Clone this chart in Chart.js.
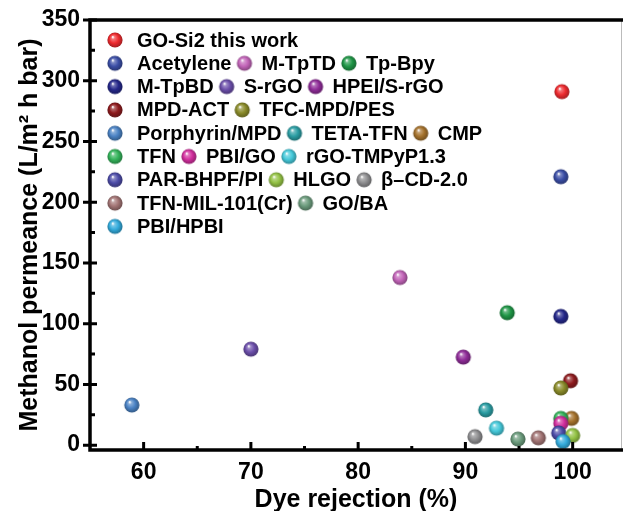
<!DOCTYPE html>
<html>
<head>
<meta charset="utf-8">
<script src="https://cdn.jsdelivr.net/npm/chart.js@4/dist/chart.umd.min.js"></script>
<style>
  html, body { margin: 0; padding: 0; background: #fff; }
  #wrap { width: 623px; height: 511px; position: relative; }
</style>
</head>
<body>
<div id="wrap"><canvas id="myChart" width="623" height="511"></canvas></div>
<script>
var labels = ["GO-Si2 this work", "Acetylene", "M-TpTD", "Tp-Bpy", "M-TpBD", "S-rGO", "HPEI/S-rGO",
  "MPD-ACT", "TFC-MPD/PES", "Porphyrin/MPD", "TETA-TFN", "CMP", "TFN", "PBI/GO", "rGO-TMPyP1.3",
  "PAR-BHPF/PI", "HLGO", "\u03b2\u2013CD-2.0", "TFN-MIL-101(Cr)", "GO/BA", "PBI/HPBI"];
var rejection = [99.0, 98.9, 83.9, 93.9, 98.9, 70.0, 89.8, 99.8, 98.9, 58.9, 91.9, 99.9, 98.9, 98.9, 92.9,
  98.7, 100.0, 90.9, 96.8, 94.9, 99.1];
var permeance = [291, 221, 138, 109, 106, 79, 72.5, 53, 47, 33, 29, 22, 22, 18, 14, 10, 8, 7, 6, 5, 3];
var colors = ["#ee2b2f", "#3b4ea6", "#c264b8", "#1f9646", "#25288a", "#6b4eaa", "#8f2c98", "#8e1b1e",
  "#8a8b2a", "#4a82c4", "#2a9da3", "#a5722c", "#34b35a", "#d22e9e", "#45c9da", "#4d4ca8", "#93c244",
  "#8e8e90", "#a27474", "#6b9b7c", "#33abdc"];
var legendRows = [[0], [1, 2, 3], [4, 5, 6], [7, 8], [9, 10, 11], [12, 13, 14], [15, 16, 17], [18, 19], [20]];
var xTicks = [60, 70, 80, 90, 100];
var yTicks = [0, 50, 100, 150, 200, 250, 300, 350];

function mix(hex, target, t) {
  var r = parseInt(hex.substr(1, 2), 16), g = parseInt(hex.substr(3, 2), 16), b = parseInt(hex.substr(5, 2), 16);
  r = Math.round(r + (target - r) * t); g = Math.round(g + (target - g) * t); b = Math.round(b + (target - b) * t);
  return "rgb(" + r + "," + g + "," + b + ")";
}

function makeBall(color, r) {
  var c = document.createElement("canvas");
  var s = Math.ceil(r * 2 + 2);
  c.width = s; c.height = s;
  var g = c.getContext("2d");
  var cx = s / 2, cy = s / 2;
  var grad = g.createRadialGradient(cx - r * 0.3, cy - r * 0.4, r * 0.05, cx, cy, r * 1.05);
  grad.addColorStop(0, "#ffffff");
  grad.addColorStop(0.18, mix(color, 255, 0.35));
  grad.addColorStop(0.55, color);
  grad.addColorStop(1, mix(color, 0, 0.35));
  g.fillStyle = grad;
  g.beginPath();
  g.arc(cx, cy, r, 0, Math.PI * 2);
  g.fill();
  return c;
}

var balls = colors.map(function(c) { return makeBall(c, 7.6); });

var datasets = labels.map(function(lab, i) {
  return {
    label: lab,
    data: [{ x: rejection[i], y: permeance[i] }],
    pointStyle: balls[i],
    pointRadius: 8,
    order: labels.length - i
  };
});

var frameAndTicks = {
  id: "frameAndTicks",
  afterDraw: function(chart) {
    var ctx = chart.ctx, a = chart.chartArea, xs = chart.scales.x, ys = chart.scales.y;
    ctx.save();
    ctx.lineCap = "butt";
    // right border, mostly cropped off
    ctx.lineWidth = 1;
    ctx.strokeStyle = "#bbb";
    ctx.beginPath(); ctx.moveTo(a.right - 0.5, a.top); ctx.lineTo(a.right - 0.5, a.bottom); ctx.stroke();
    ctx.strokeStyle = "#000";
    ctx.lineWidth = 3.5;
    ctx.beginPath();
    ctx.moveTo(a.left, a.top); ctx.lineTo(a.right + 2, a.top);
    ctx.moveTo(a.left, a.top - 1.7); ctx.lineTo(a.left, a.bottom + 1.7);
    ctx.moveTo(a.left - 1.7, a.bottom); ctx.lineTo(a.right + 2, a.bottom);
    ctx.stroke();
    ctx.lineWidth = 3;
    ctx.beginPath();
    for (var v = 0; v <= 350; v += 25) {
      var py = ys.getPixelForValue(v);
      if (v % 50 === 0) { ctx.moveTo(a.left - 7, py); ctx.lineTo(a.left + 7, py); }
      else { ctx.moveTo(a.left, py); ctx.lineTo(a.left + 5, py); }
    }
    for (var w = 60; w <= 100; w += 5) {
      var px = xs.getPixelForValue(w);
      if (w % 10 === 0) { ctx.moveTo(px, a.bottom); ctx.lineTo(px, a.bottom - 8); }
      else { ctx.moveTo(px, a.bottom); ctx.lineTo(px, a.bottom - 4); }
    }
    ctx.stroke();
    ctx.restore();
  }
};

var ballLegend = {
  id: "ballLegend",
  afterDraw: function(chart) {
    var ctx = chart.ctx;
    ctx.save();
    ctx.font = "bold 20px 'Liberation Sans', Arial, sans-serif";
    ctx.fillStyle = "#000";
    ctx.textBaseline = "middle";
    legendRows.forEach(function(row, r) {
      var y = 40 + r * 23.3;
      var x = 115;
      row.forEach(function(idx, k) {
        var b = balls[idx];
        ctx.drawImage(b, x - b.width / 2, y - b.height / 2);
        var tx = x + (k === 0 ? 22 : 17);
        ctx.fillText(labels[idx], tx, y + 1);
        x = tx + ctx.measureText(labels[idx]).width + 13;
      });
    });
    ctx.restore();
  }
};

var tickFont = { family: "'Liberation Sans', Arial, sans-serif", size: 23, weight: "bold" };
var titleFont = { family: "'Liberation Sans', Arial, sans-serif", size: 25, weight: "bold" };

var ctx = document.getElementById("myChart").getContext("2d");
var myChart = new Chart(ctx, {
  type: "scatter",
  data: { datasets: datasets },
  options: {
    responsive: false,
    animation: false,
    layout: { autoPadding: false, padding: { top: 20, right: 1, left: 0, bottom: 0 } },
    plugins: { legend: { display: false }, tooltip: { enabled: false } },
    scales: {
      x: {
        type: "linear",
        min: 55,
        max: 104.6,
        grid: { display: false, drawTicks: false },
        border: { display: false },
        afterBuildTicks: function(s) { s.ticks = xTicks.map(function(v) { return { value: v }; }); },
        afterFit: function(s) { s.height = 61; s.paddingLeft = 0; s.paddingRight = 0; },
        ticks: { color: "#000", font: tickFont, padding: 9, maxRotation: 0 },
        title: { display: true, text: "Dye rejection (%)", color: "#000", font: titleFont, padding: { top: 0, bottom: -4 } }
      },
      y: {
        type: "linear",
        min: -4,
        max: 350,
        grid: { display: false, drawTicks: false },
        border: { display: false },
        afterBuildTicks: function(s) { s.ticks = yTicks.map(function(v) { return { value: v }; }); },
        afterFit: function(s) { s.width = 90; s.paddingTop = 0; s.paddingBottom = 0; },
        ticks: { color: "#000", font: tickFont, padding: 10 },
        title: { display: true, text: "Methanol permeance (L/m\u00b2 h bar)", color: "#000", font: titleFont, padding: { top: 15, bottom: 0 } }
      }
    }
  },
  plugins: [frameAndTicks, ballLegend]
});
</script>
</body>
</html>
